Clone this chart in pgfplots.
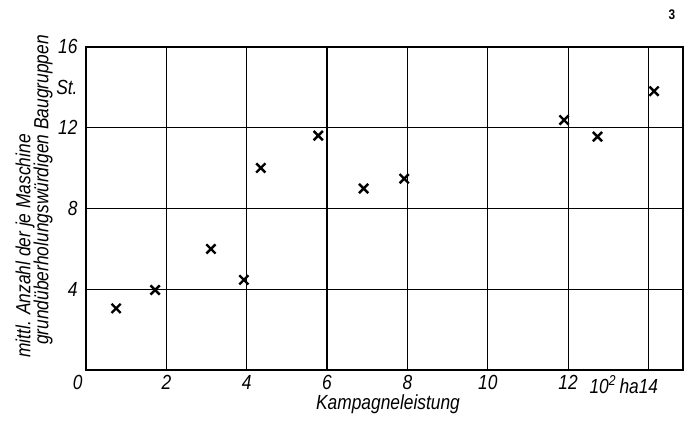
\documentclass[border=0pt]{standalone}
\usepackage{fontspec}
\setmainfont{Liberation Sans}[FakeStretch=0.85]
\usepackage{pgfplots}
\pgfplotsset{compat=1.18}
\newcommand{\lbl}{\fontsize{20.5}{20}\selectfont\itshape}
\begin{document}
\begin{tikzpicture}[x=1bp,y=1bp]
\begin{axis}[
  at={(86bp,51bp)}, anchor=south west,
  scale only axis, width=597bp, height=323.3bp,
  xmin=0, xmax=14.86, ymin=0, ymax=16,
  xtick={0,2,4,6,8,10,12,14},
  xticklabels={\llap{0\,},2,4,6,8,10,12,{\llap{10\textsuperscript{2}\,ha}14}},
  ytick={4,8,12,16},
  yticklabels={4,8,12,16},
  extra y ticks={14}, extra y tick labels={St.},
  extra y tick style={grid=none},
  grid=major, major grid style={black, line width=1.2bp},
  axis line style={black, line width=1.8bp},
  tick style={draw=none},
  ticklabel style={font=\lbl},
  xticklabel style={yshift=-2bp},
  yticklabel style={xshift=-5bp},
  clip=false,
]
\addplot[only marks, mark=x, mark size=6.5bp, line width=2.4bp, black] coordinates {
(0.75,3.05) (1.72,3.96) (3.11,5.99) (3.93,4.46) (4.35,10.0) (5.78,11.6)
(6.91,8.98) (7.92,9.47) (11.9,12.37) (12.73,11.55) (14.14,13.8)
};
\end{axis}
\node[font=\lbl] at (388,17) {Kampagneleistung};
\node[rotate=90, font=\lbl] at (25,175) {mittl. Anzahl der je Maschine};
\node[rotate=90, font=\lbl] at (43,231) {grundüberholungswürdigen Baugruppen};
\node[font=\fontsize{14}{14}\selectfont\bfseries] at (672,406) {3};
\pgfresetboundingbox
\path (0,0) rectangle (684,421);
\end{tikzpicture}
\end{document}
